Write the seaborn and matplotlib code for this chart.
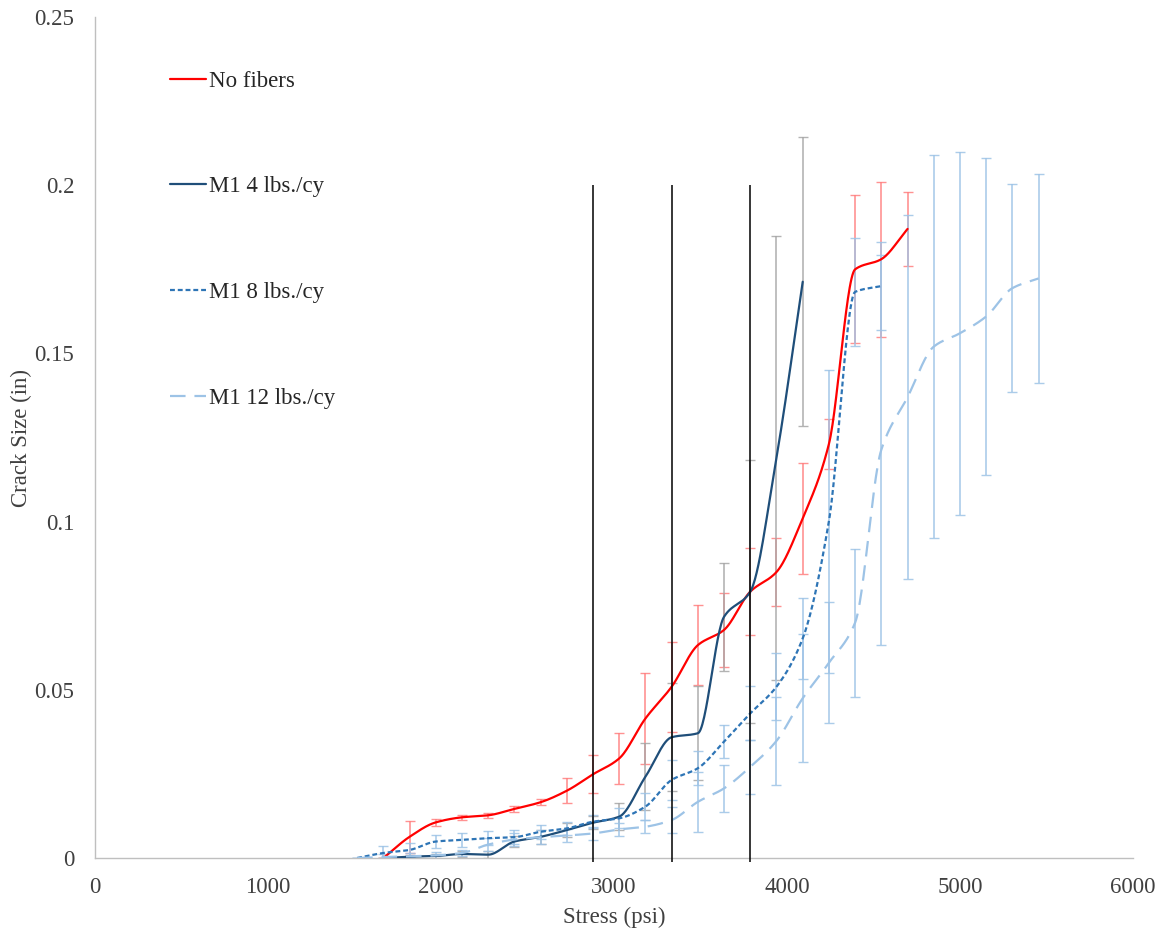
import numpy as np
import pandas as pd
import matplotlib
matplotlib.use("Agg")
import matplotlib.pyplot as plt
import seaborn as sns

# Applied stress levels (psi)
stress = [1515, 1667, 1818, 1970, 2121, 2273, 2424, 2576, 2727, 2879, 3030,
          3182, 3333, 3485, 3636, 3788, 3939, 4091, 4242, 4394, 4545, 4697,
          4848, 5000, 5152, 5303, 5455]

# Mean crack size (in) and standard deviation per mix
no_fibers_x = stress[1:22]
no_fibers_y = [0, 0.0063, 0.0106, 0.0121, 0.0127, 0.0146, 0.0166, 0.0200, 0.0249,
               0.0296, 0.0415, 0.0509, 0.0633, 0.0678, 0.0792, 0.0850, 0.1010,
               0.1230, 0.1750, 0.1780, 0.1870]
no_fibers_err = [0, 0.0048, 0.0010, 0.0008, 0.0008, 0.0008, 0.0008, 0.0037, 0.0057,
                 0.0077, 0.0135, 0.0134, 0.0119, 0.0110, 0.0130, 0.0100, 0.0165,
                 0.0075, 0.0220, 0.0230, 0.0110]

m1_4_x = stress[1:18]
m1_4_y = [0, 0.0004, 0.0006, 0.0012, 0.0010, 0.0049, 0.0063, 0.0083, 0.0105,
          0.0123, 0.0242, 0.0359, 0.0371, 0.0717, 0.0792, 0.1190, 0.1713]
m1_4_err = [0, 0.0005, 0.0005, 0.0010, 0.0010, 0.0015, 0.0020, 0.0020, 0.0020,
            0.0040, 0.0100, 0.0160, 0.0140, 0.0160, 0.0390, 0.0660, 0.0430]

m1_8_x = stress[0:21]
m1_8_y = [0, 0.0015, 0.0024, 0.0049, 0.0054, 0.0059, 0.0062, 0.0078, 0.0088,
          0.0108, 0.0118, 0.0153, 0.0232, 0.0267, 0.0346, 0.0430, 0.0509,
          0.0653, 0.1000, 0.1683, 0.1700]
m1_8_err = [0, 0.0020, 0.0020, 0.0020, 0.0020, 0.0020, 0.0020, 0.0020, 0.0020,
            0.0020, 0.0030, 0.0040, 0.0060, 0.0050, 0.0050, 0.0080, 0.0100,
            0.0120, 0.0450, 0.0160, 0.0130]

m1_12_x = stress[0:27]
m1_12_y = [0, 0.0003, 0.0005, 0.0008, 0.0015, 0.0040, 0.0055, 0.0062, 0.0067,
           0.0073, 0.0085, 0.0093, 0.0113, 0.0167, 0.0207, 0.0271, 0.0348,
           0.0475, 0.0580, 0.0700, 0.1213, 0.1370, 0.1520, 0.1560, 0.1610,
           0.1694, 0.1723]
m1_12_err = [0, 0.0010, 0.0010, 0.0010, 0.0010, 0.0020, 0.0020, 0.0020, 0.0020,
             0.0020, 0.0020, 0.0020, 0.0040, 0.0090, 0.0070, 0.0080, 0.0130,
             0.0190, 0.0180, 0.0220, 0.0580, 0.0540, 0.0570, 0.0540, 0.0470,
             0.0310, 0.0310]

# Stress levels marked with reference lines
marker_stress = [2879, 3333, 3788]

x_ticks = [0, 1000, 2000, 3000, 4000, 5000, 6000]
y_ticks = [0, 0.05, 0.1, 0.15, 0.2, 0.25]
y_tick_labels = ["0", "0.05", "0.1", "0.15", "0.2", "0.25"]


def smooth(xs, ys, n=30):
    """Shape-preserving (monotone) cubic Hermite curve through the points."""
    x = np.asarray(xs, float)
    y = np.asarray(ys, float)
    h = np.diff(x)
    d = np.diff(y) / h
    m = np.zeros_like(y)
    for i in range(1, len(y) - 1):
        if d[i - 1] * d[i] > 0:
            w1 = 2 * h[i] + h[i - 1]
            w2 = h[i] + 2 * h[i - 1]
            m[i] = (w1 + w2) / (w1 / d[i - 1] + w2 / d[i])
    m[0] = d[0]
    m[-1] = d[-1]
    px, py = [x[:1]], [y[:1]]
    t = np.linspace(0, 1, n)[1:]
    for i in range(len(x) - 1):
        h00 = 2 * t ** 3 - 3 * t ** 2 + 1
        h10 = t ** 3 - 2 * t ** 2 + t
        h01 = -2 * t ** 3 + 3 * t ** 2
        h11 = t ** 3 - t ** 2
        px.append(x[i] + t * h[i])
        py.append(h00 * y[i] + h10 * h[i] * m[i] + h01 * y[i + 1]
                  + h11 * h[i] * m[i + 1])
    return np.concatenate(px), np.concatenate(py)


sns.set_theme(style="white")
plt.rcParams["font.family"] = ["Liberation Serif", "DejaVu Serif"]

fig = plt.figure(figsize=(11.62, 9.30), dpi=100)
ax = fig.add_axes([0.0818, 0.0774, 0.8932, 0.9043])

series = [
    ("No fibers", no_fibers_x, no_fibers_y, no_fibers_err, "#FF0000", "-", "#FF7F7F"),
    ("M1 4 lbs./cy", m1_4_x, m1_4_y, m1_4_err, "#1F4E79", "-", "#A6A6A6"),
    ("M1 8 lbs./cy", m1_8_x, m1_8_y, m1_8_err, "#2E75B6", (0, (2.2, 1.3)), "#9DC3E6"),
    ("M1 12 lbs./cy", m1_12_x, m1_12_y, m1_12_err, "#9DC3E6", (0, (7, 4)), "#9DC3E6"),
]

for label, xs, ys, errs, color, ls, ecolor in series:
    ax.errorbar(xs, ys, yerr=errs, fmt="none", ecolor=ecolor, elinewidth=1.2,
                capsize=3.5, capthick=1.0, alpha=0.85, zorder=2)

for label, xs, ys, errs, color, ls, ecolor in series:
    sx, sy = smooth(xs, ys)
    df = pd.DataFrame({"Stress (psi)": sx, "Crack Size (in)": sy})
    sns.lineplot(data=df, x="Stress (psi)", y="Crack Size (in)", ax=ax,
                 sort=False, estimator=None, color=color, linewidth=1.6,
                 linestyle=ls, label=label, zorder=3)

ax.vlines(marker_stress, -0.0012, 0.2, colors="black", linewidth=1.1,
          clip_on=False, zorder=4)

ax.set_xlim(0, 6000)
ax.set_ylim(0, 0.25)
ax.set_xticks(x_ticks)
ax.set_xticklabels([str(v) for v in x_ticks])
ax.set_yticks(y_ticks)
ax.set_yticklabels(y_tick_labels)
ax.tick_params(axis="x", length=0, labelsize=16.5, colors="#404040", pad=14)
ax.tick_params(axis="y", length=0, labelsize=16.5, colors="#404040", pad=15)
ax.set_xlabel("Stress (psi)", fontsize=16.5, color="#404040", labelpad=6)
ax.set_ylabel("Crack Size (in)", fontsize=16.5, color="#404040", labelpad=2)

for side in ["top", "right"]:
    ax.spines[side].set_visible(False)
for side in ["left", "bottom"]:
    ax.spines[side].set_color("#BFBFBF")
    ax.spines[side].set_linewidth(1.0)

leg = ax.legend(loc="upper left", bbox_to_anchor=(0.072, 0.936), frameon=False,
                fontsize=16.5, handlelength=1.57, handletextpad=0.15,
                labelspacing=3.69, borderpad=0, borderaxespad=0)
for txt in leg.get_texts():
    txt.set_color("#262626")

fig.savefig("out.png", dpi=100)
